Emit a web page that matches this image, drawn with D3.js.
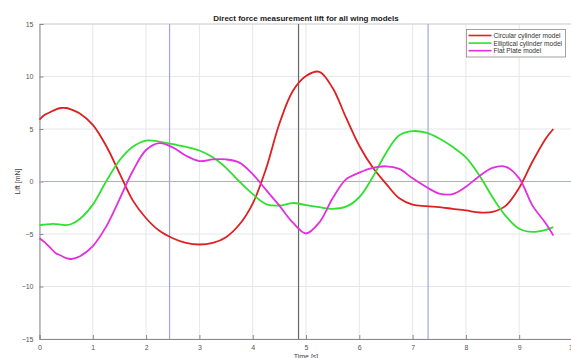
<!doctype html>
<html lang="en">
  <head>
    <meta charset="utf-8">
    <title>Direct force measurement lift</title>
    <script src="https://d3js.org/d3.v7.min.js"></script>
    <style>
      body { margin: 0; background: #fff; }
      text { font-family: "Liberation Sans", Arial, sans-serif; }
    </style>
  </head>

  <body>
    <svg width="571" height="358"></svg>
    <script>
      var time = [0, 0.1, 0.2, 0.3, 0.4, 0.5, 0.6, 0.75, 1.0, 1.25, 1.5, 1.75, 2.0, 2.25, 2.5, 2.75,
        3.0, 3.25, 3.5, 3.75, 4.0, 4.25, 4.5, 4.75, 5.0, 5.25, 5.5, 5.75, 6.0, 6.25, 6.5, 6.75,
        7.0, 7.25, 7.5, 7.75, 8.0, 8.25, 8.5, 8.75, 9.0, 9.25, 9.5, 9.64];

      var circular = [5.9, 6.35, 6.6, 6.85, 7.0, 7.0, 6.85, 6.5, 5.4, 3.4, 0.8, -1.8, -3.5, -4.7, -5.4, -5.85,
        -6.0, -5.85, -5.3, -4.1, -2.1, 1.2, 5.5, 8.6, 10.05, 10.45, 8.9, 6.1, 3.4, 1.35, -0.2, -1.6,
        -2.2, -2.35, -2.45, -2.6, -2.75, -2.95, -2.9, -2.3, -0.6, 1.9, 4.1, 5.0];

      var elliptical = [-4.15, -4.1, -4.05, -4.05, -4.1, -4.15, -4.05, -3.6, -2.2, 0.0, 2.0, 3.3, 3.9, 3.8, 3.55, 3.3,
        2.95, 2.3, 1.3, 0.0, -1.2, -2.15, -2.3, -2.05, -2.25, -2.45, -2.6, -2.4, -1.5, 0.4, 2.7, 4.4,
        4.8, 4.65, 4.1, 3.3, 2.3, 0.6, -1.5, -3.3, -4.5, -4.8, -4.6, -4.35];

      var flatPlate = [-5.4, -5.8, -6.3, -6.8, -7.05, -7.3, -7.38, -7.15, -6.15, -4.3, -1.7, 1.0, 3.0, 3.65, 3.25, 2.45,
        1.95, 2.1, 2.1, 1.8, 0.7, -0.8, -2.3, -3.9, -4.95, -3.9, -1.6, 0.2, 0.85, 1.3, 1.45, 1.2,
        0.3, -0.5, -1.15, -1.2, -0.5, 0.5, 1.3, 1.4, 0.3, -2.3, -4.0, -5.15];

      var seriesNames = ['Circular cylinder model', 'Elliptical cylinder model', 'Flat Plate model'];
      var seriesColors = ['#dd2020', '#30e030', '#e030e0'];
      var xTicks = [0, 1, 2, 3, 4, 5, 6, 7, 8, 9, 10];
      var yTicks = [-15, -10, -5, 0, 5, 10, 15];
      var markerTimes = [2.44, 4.86, 7.29];
      var markerColors = ['#a4a4d8', '#666666', '#a4a4ec'];

      var svg = d3.select('svg');
      var margin = {left: 39.5, top: 24, bottom: 339};
      var x = d3.scaleLinear().domain([0, 10]).range([margin.left, 572.5]);
      var y = d3.scaleLinear().domain([-15, 15]).range([margin.bottom, margin.top]);

      // grid
      svg.append('g').selectAll('line').data(xTicks).enter().append('line')
        .attr('x1', function(d){ return x(d); }).attr('x2', function(d){ return x(d); })
        .attr('y1', y(-15)).attr('y2', y(15))
        .style('stroke', '#e6e6ee').style('stroke-width', 1);
      svg.append('g').selectAll('line').data(yTicks).enter().append('line')
        .attr('x1', x(0)).attr('x2', x(10))
        .attr('y1', function(d){ return y(d); }).attr('y2', function(d){ return y(d); })
        .style('stroke', '#e6e6ee').style('stroke-width', 1);

      // box
      svg.append('line').attr('x1', x(0)).attr('x2', x(10)).attr('y1', y(15)).attr('y2', y(15))
        .style('stroke', '#d4d4d4');

      // axes (ticks inside, matlab style)
      var xAxis = d3.axisBottom(x).tickValues(xTicks).tickSize(-4).tickPadding(6).tickFormat(d3.format('d'));
      var gx = svg.append('g').attr('transform', 'translate(0,' + y(-15) + ')').call(xAxis);
      var yAxis = d3.axisLeft(y).tickValues(yTicks).tickSize(-4).tickPadding(6).tickFormat(d3.format('d'));
      var gy = svg.append('g').attr('transform', 'translate(' + x(0) + ',0)').call(yAxis);
      [gx, gy].forEach(function(g){
        g.select('.domain').style('stroke', '#8a8a8a');
        g.selectAll('.tick line').style('stroke', '#8a8a8a');
        g.selectAll('.tick text').style('fill', '#555').style('font-size', '7px');
      });

      // zero line
      svg.append('line').attr('x1', x(0)).attr('x2', x(10)).attr('y1', y(0)).attr('y2', y(0))
        .style('stroke', '#8cbcdc').style('stroke-width', 1);

      // vertical markers
      svg.append('g').selectAll('line').data(markerTimes).enter().append('line')
        .attr('x1', function(d){ return x(d); }).attr('x2', function(d){ return x(d); })
        .attr('y1', y(-15)).attr('y2', y(15))
        .style('stroke', function(d, i){ return markerColors[i]; }).style('stroke-width', 1.2);

      // curves
      var series = [circular, elliptical, flatPlate];
      var line = d3.line()
        .x(function(d, i){ return x(time[i]); })
        .y(function(d){ return y(d); })
        .curve(d3.curveCatmullRom.alpha(0.5));
      svg.append('g').selectAll('path').data(series).enter().append('path')
        .attr('d', line)
        .style('fill', 'none')
        .style('stroke', function(d, i){ return seriesColors[i]; })
        .style('stroke-width', 1.8);

      // title and labels
      svg.append('text').attr('x', 306).attr('y', 20.5).attr('text-anchor', 'middle')
        .style('font-size', '8px').style('font-weight', 'bold').style('fill', '#222')
        .text('Direct force measurement lift for all wing models');
      svg.append('text').attr('transform', 'translate(20,' + y(0) + ') rotate(-90)')
        .attr('text-anchor', 'middle').style('font-size', '7px').style('fill', '#444')
        .text('Lift [mN]');
      svg.append('text').attr('x', 306).attr('y', 358.5).attr('text-anchor', 'middle')
        .style('font-size', '7px').style('fill', '#444')
        .text('Time [s]');

      // legend
      var lg = svg.append('g').attr('transform', 'translate(466.5,29.5)');
      lg.append('rect').attr('width', 99).attr('height', 27.5)
        .style('fill', '#fff').style('stroke', '#8a8a8a').style('stroke-width', 0.8);
      var items = lg.selectAll('g').data(seriesNames).enter().append('g')
        .attr('transform', function(d, i){ return 'translate(0,' + (6 + i * 7.6) + ')'; });
      items.append('line').attr('x1', 2).attr('x2', 25).attr('y1', 0).attr('y2', 0)
        .style('stroke', function(d, i){ return seriesColors[i]; }).style('stroke-width', 1.6);
      items.append('text').attr('x', 27).attr('y', 2.4)
        .style('font-size', '6.6px').style('fill', '#333')
        .text(function(d){ return d; });
    </script>
  </body>
</html>
